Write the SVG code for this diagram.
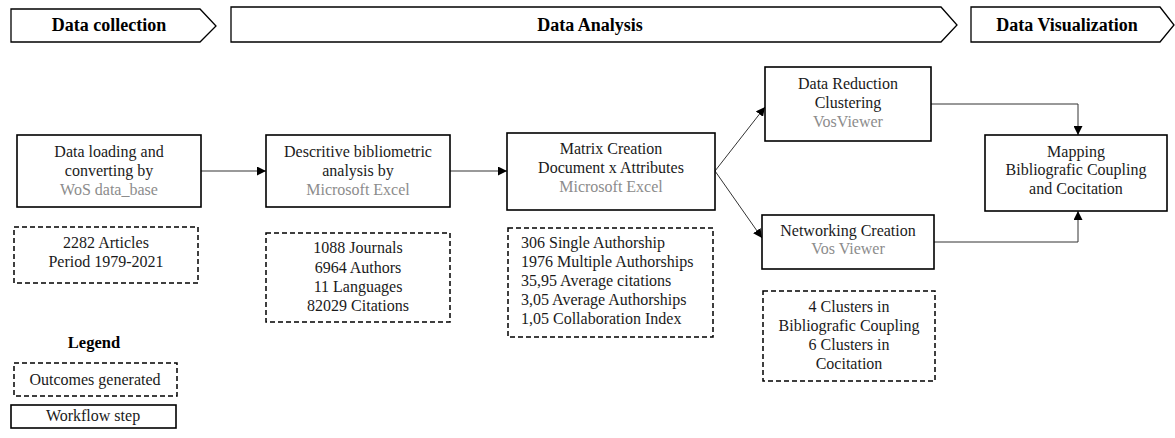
<svg xmlns="http://www.w3.org/2000/svg" width="1175" height="438" viewBox="0 0 1175 438">
<style>
text{font-family:"Liberation Serif","Times New Roman",serif;font-size:16px;fill:#1a1a1a;text-anchor:middle}
.h{font-weight:bold;font-size:18px;fill:#000}
.lg{font-weight:bold;font-size:16.5px;fill:#000}
.g{fill:#8c8c8c}
.l{text-anchor:start}
.hdr{fill:#fff;stroke:#000;stroke-width:1.3}
.step{fill:#fff;stroke:#000;stroke-width:1.6}
.out{fill:#fff;stroke:#000;stroke-width:1.5;stroke-dasharray:5,3}
.c1{fill:none;stroke:#777;stroke-width:1.6}
.c2{fill:none;stroke:#333;stroke-width:1}
</style>
<defs>
<marker id="ah" viewBox="0 0 10 10" refX="10" refY="5" markerWidth="9" markerHeight="9" markerUnits="userSpaceOnUse" orient="auto">
<path d="M0,0 L10,5 L0,10 z" fill="#000"/>
</marker>
</defs>
<rect width="1175" height="438" fill="#fff"/>
<g id="header-collection"><path class="hdr" d="M11,9 H200 L216,26 L200,42 H11 Z"/><text class="h" x="109" y="31">Data collection</text></g>
<g id="header-analysis"><path class="hdr" d="M231,7 H941 L957,25 L941,42 H231 Z"/><text class="h" x="590" y="31">Data Analysis</text></g>
<g id="header-visualization"><path class="hdr" d="M971,7 H1160 L1174,25 L1160,42 H971 Z"/><text class="h" x="1067" y="31">Data Visualization</text></g>

<g id="connectors">
<line class="c1" x1="201" y1="171" x2="266" y2="171" marker-end="url(#ah)"/>
<line class="c1" x1="450" y1="171" x2="507" y2="171" marker-end="url(#ah)"/>
<line class="c2" x1="715" y1="171" x2="765" y2="107" marker-end="url(#ah)"/>
<line class="c2" x1="715" y1="171" x2="762" y2="238" marker-end="url(#ah)"/>
<path class="c2" d="M931,104 H1078 V135" marker-end="url(#ah)"/>
<path class="c2" d="M934,242 H1078 V211" marker-end="url(#ah)"/>
</g>

<g id="n-loading"><rect class="step" x="17" y="135" width="184" height="72"/>
<text x="109" y="157">Data loading and</text><text x="109" y="176">converting by</text><text class="g" x="109" y="195">WoS data_base</text></g>
<g id="o-loading"><rect class="out" x="14" y="227" width="184" height="56"/>
<text x="106" y="248">2282 Articles</text><text x="106" y="267">Period 1979-2021</text></g>

<g id="n-descriptive"><rect class="step" x="266" y="135" width="184" height="72"/>
<text x="358" y="157">Descritive bibliometric</text><text x="358" y="176">analysis  by</text><text class="g" x="358" y="195">Microsoft Excel</text></g>
<g id="o-descriptive"><rect class="out" x="266" y="233" width="184" height="89"/>
<text x="358" y="253">1088 Journals</text><text x="358" y="273">6964 Authors</text><text x="358" y="292">11 Languages</text><text x="358" y="311">82029 Citations</text></g>

<g id="n-matrix"><rect class="step" x="507" y="133" width="208" height="77"/>
<text x="611" y="154">Matrix Creation</text><text x="611" y="173">Document x Attributes</text><text class="g" x="611" y="192">Microsoft Excel</text></g>
<g id="o-matrix"><rect class="out" x="508" y="228" width="205" height="109"/>
<text class="l" x="521" y="248">306 Single  Authorship</text>
<text class="l" x="521" y="267">1976 Multiple Authorships</text>
<text class="l" x="521" y="286">35,95 Average  citations</text>
<text class="l" x="521" y="305">3,05 Average  Authorships</text>
<text class="l" x="521" y="324">1,05 Collaboration Index</text></g>

<g id="n-reduction"><rect class="step" x="765" y="67" width="166" height="74"/>
<text x="848" y="89">Data Reduction</text><text x="848" y="108">Clustering</text><text class="g" x="848" y="127">VosViewer</text></g>

<g id="n-networking"><rect class="step" x="762" y="215" width="172" height="54"/>
<text x="848" y="236">Networking Creation</text><text class="g" x="848" y="254">Vos Viewer</text></g>
<g id="o-networking"><rect class="out" x="763" y="291" width="172" height="90"/>
<text x="849" y="312">4 Clusters in</text><text x="849" y="331">Bibliografic Coupling</text><text x="849" y="350">6 Clusters in</text><text x="849" y="369">Cocitation</text></g>

<g id="n-mapping"><rect class="step" x="985" y="135" width="182" height="76"/>
<text x="1076" y="157">Mapping</text><text x="1076" y="175">Bibliografic Coupling</text><text x="1076" y="194">and Cocitation</text></g>

<g id="legend">
<text class="lg" x="94" y="348">Legend</text>
<rect class="out" x="14" y="363" width="163" height="33"/><text x="95" y="385">Outcomes generated</text>
<rect class="step" x="11" y="405" width="165" height="23"/><text x="93" y="421">Workflow step</text>
</g>
</svg>
